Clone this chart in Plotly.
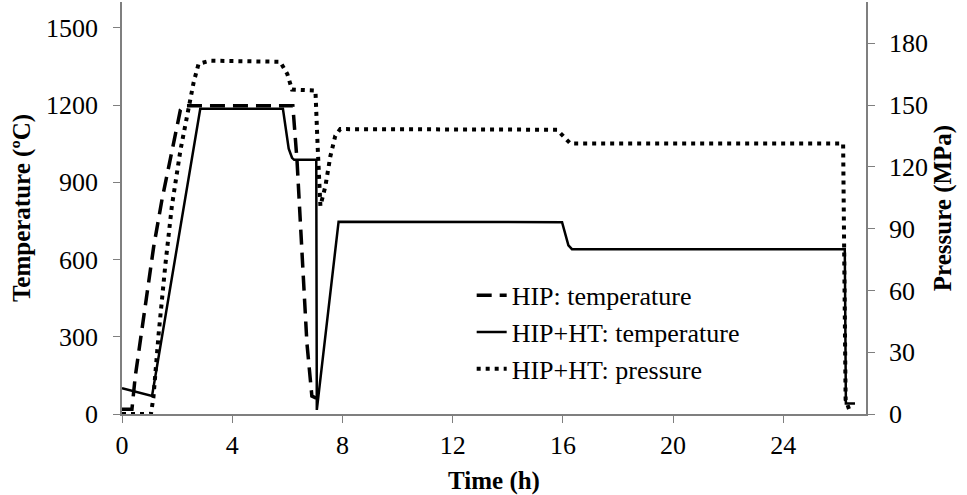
import plotly.graph_objects as go

# HIP: temperature (dashed)
hip_t = [0, 0.36, 0.48, 0.78, 1.15, 1.45, 1.81, 2.12, 2.24, 6.2, 6.35, 6.53, 6.71, 6.89, 7.05]
hip_T = [18, 18, 145, 378, 650, 832, 1026, 1181, 1197, 1197, 987, 598, 276, 70, 62]

# HIP+HT: temperature (solid)
ht_t = [0, 1.09, 2.84, 5.84, 6.05, 6.17, 6.25, 7.05, 7.07, 7.86, 15.97, 16.2, 16.33, 26.23, 26.27, 26.6]
ht_T = [100, 70, 1185, 1185, 1030, 995, 987, 987, 16, 747, 745, 655, 640, 640, 41, 41]

# HIP+HT: pressure (dotted)
p_t = [0, 1.05, 1.14, 1.33, 1.57, 1.81, 2.12, 2.42, 2.6, 2.78, 3.2, 5.74, 6.0, 6.17, 7.02,
       7.1, 7.2, 7.38, 7.56, 7.74, 7.92, 15.79, 16.27, 26.17, 26.26, 26.42]
p_P = [0, 0, 8, 39, 72, 101, 128, 148, 161, 170, 171.5, 171, 165, 157.5, 157,
       130, 101, 110.5, 125, 135, 138.3, 138, 131.3, 131.3, 7, 1]

x_ticks = [0, 4, 8, 12, 16, 20, 24]
yl_ticks = [0, 300, 600, 900, 1200, 1500]
yr_ticks = [0, 30, 60, 90, 120, 150, 180]

FONT = "Liberation Serif"
P_RANGE = [0, 200]

fig = go.Figure()
fig.add_trace(go.Scatter(x=hip_t, y=hip_T, mode="lines", name="HIP: temperature",
                         line=dict(color="black", width=3.5, dash="15px,8px")))
fig.add_trace(go.Scatter(x=ht_t, y=ht_T, mode="lines", name="HIP+HT: temperature",
                         line=dict(color="black", width=2.5)))
fig.add_trace(go.Scatter(x=p_t, y=p_P, mode="lines", name="HIP+HT: pressure", yaxis="y2",
                         line=dict(color="black", width=4, dash="4px,5px")))
# invisible copy so the label-only right axis (y3) is rendered
fig.add_trace(go.Scatter(x=p_t, y=p_P, mode="lines", yaxis="y3", opacity=0,
                         line=dict(width=0), showlegend=False, hoverinfo="skip"))

axis_common = dict(showline=True, linecolor="#7f7f7f", linewidth=1.5, ticks="outside",
                   ticklen=7, tickcolor="#7f7f7f", showgrid=False, zeroline=False,
                   tickfont=dict(family=FONT, size=26, color="black"))

fig.update_layout(
    width=967, height=495,
    margin=dict(l=122, r=101, t=2, b=81),
    plot_bgcolor="white", paper_bgcolor="white",
    font=dict(family=FONT, color="black"),
    xaxis=dict(range=[0, 27], tickvals=x_ticks,
               title=dict(text="<b>Time (h)</b>", font=dict(family=FONT, size=25), standoff=14),
               **axis_common),
    yaxis=dict(range=[0, 1600], tickvals=yl_ticks, ticklabelstandoff=10,
               title=dict(text="<b>Temperature (ºC)</b>", font=dict(family=FONT, size=25), standoff=8),
               **axis_common),
    # right axis: line and tick marks
    yaxis2=dict(range=P_RANGE, tickvals=yr_ticks, overlaying="y", side="right",
                showticklabels=False, **axis_common),
    # right axis: tick labels and title, shifted outwards
    yaxis3=dict(range=P_RANGE, tickvals=yr_ticks, overlaying="y", side="right",
                anchor="free", position=1, shift=22, autoshift=False,
                showline=False, ticks="", showgrid=False, zeroline=False,
                tickfont=dict(family=FONT, size=26, color="black"),
                title=dict(text="<b>Pressure (MPa)</b>", font=dict(family=FONT, size=25), standoff=6)),
    legend=dict(x=0.47, y=0.345, xanchor="left", yanchor="top",
                bgcolor="rgba(0,0,0,0)", font=dict(family=FONT, size=26, color="black")),
    showlegend=True,
)

fig.write_html("out.html")
